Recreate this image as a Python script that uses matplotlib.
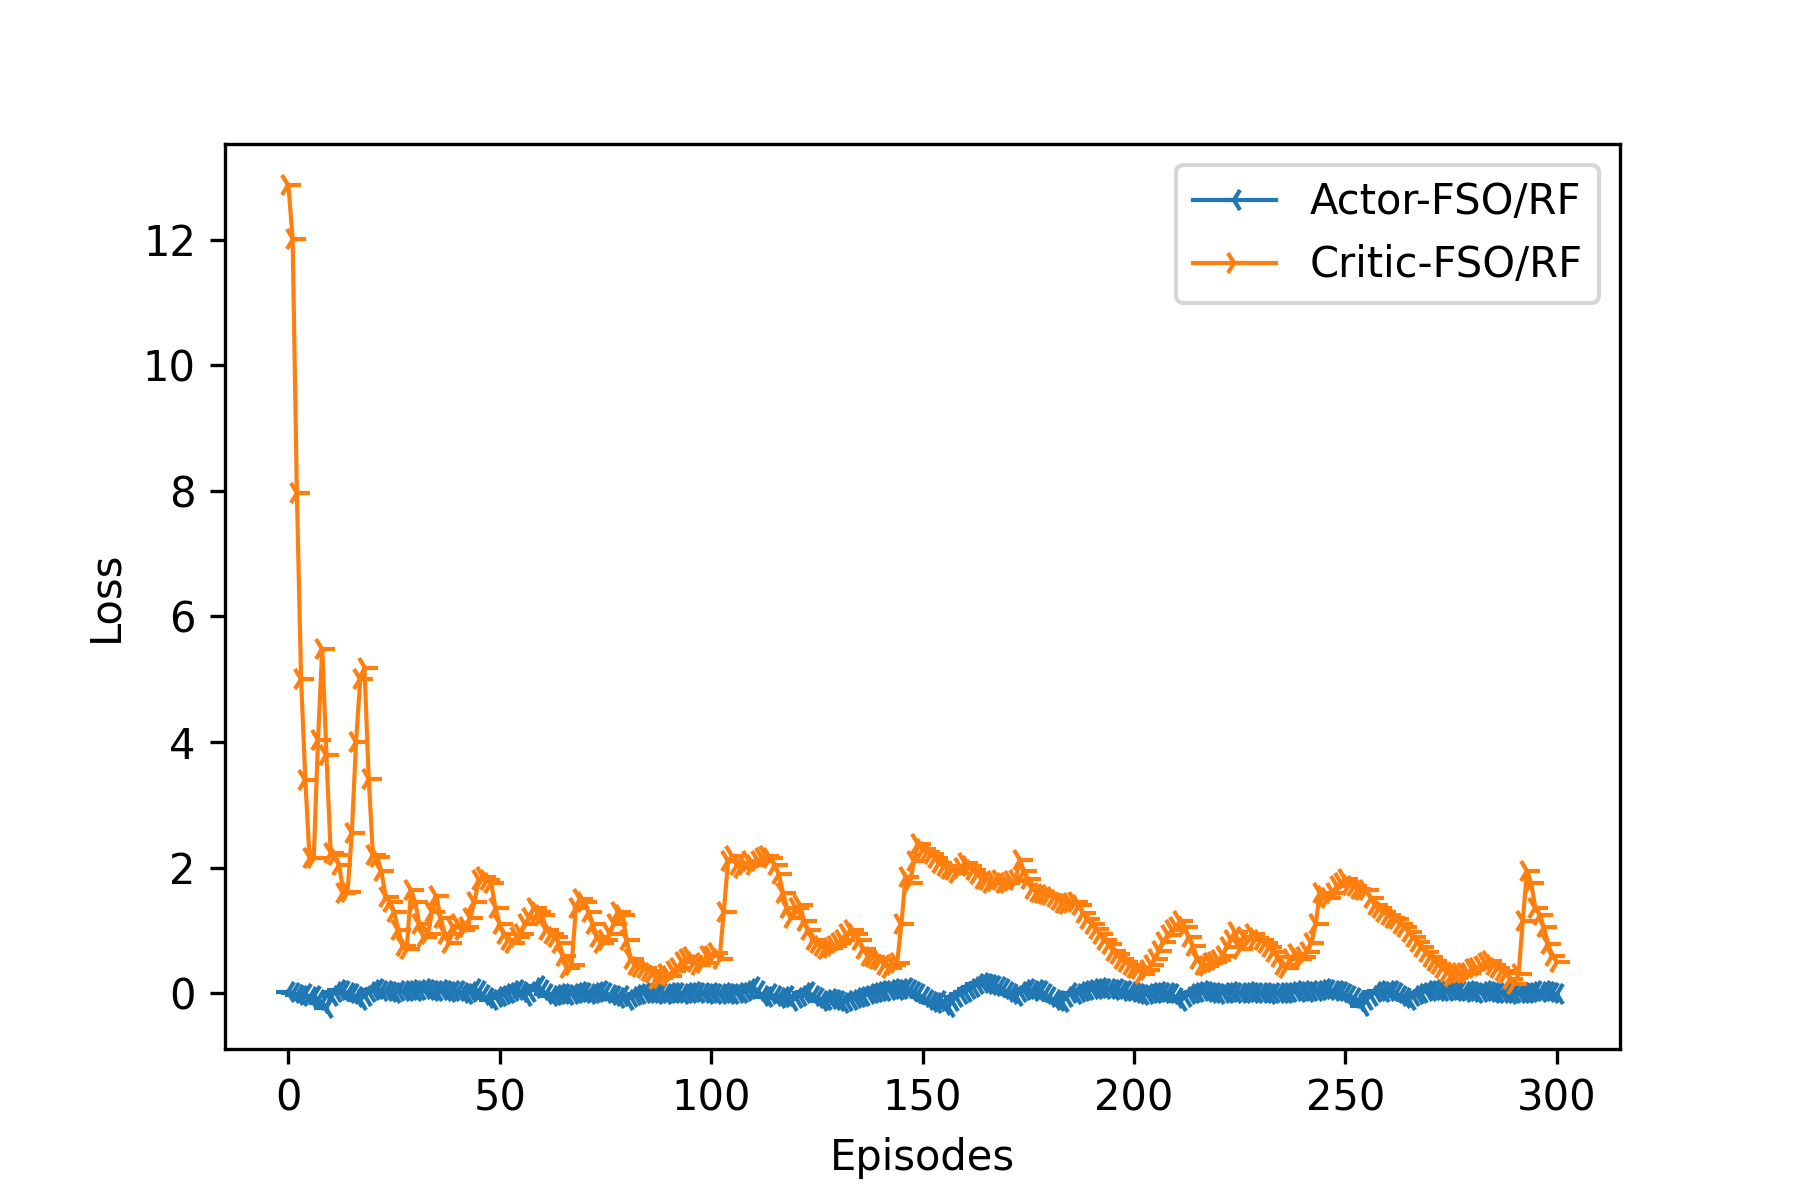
import numpy as np
import matplotlib
matplotlib.use('Agg')
import matplotlib.pyplot as plt

# critic loss per episode (0..300)
critic_loss = [
    12.87, 12.01, 7.97, 5.00, 3.40, 2.15, 2.15, 4.03, 5.49, 3.79,
    2.23, 2.20, 2.05, 1.60, 1.62, 2.55, 4.00, 5.00, 5.18, 3.41,
    2.20, 2.17, 1.94, 1.54, 1.46, 1.30, 1.00, 0.75, 0.70, 1.65,
    1.45, 1.10, 0.90, 0.95, 1.30, 1.55, 1.20, 0.95, 0.80, 1.05,
    1.10, 1.00, 1.05, 1.20, 1.45, 1.80, 1.85, 1.80, 1.75, 1.35,
    1.10, 0.95, 0.85, 0.80, 0.90, 0.95, 1.10, 1.20, 1.35, 1.30,
    1.25, 1.00, 0.95, 0.90, 0.80, 0.60, 0.40, 0.45, 1.35, 1.50,
    1.45, 1.30, 1.10, 0.90, 0.80, 0.85, 0.95, 1.10, 1.30, 1.25,
    0.85, 0.55, 0.45, 0.42, 0.40, 0.35, 0.32, 0.22, 0.25, 0.30,
    0.27, 0.35, 0.40, 0.50, 0.55, 0.58, 0.50, 0.45, 0.48, 0.60,
    0.60, 0.64, 0.55, 1.30, 2.10, 2.18, 2.05, 2.00, 2.05, 2.10,
    2.05, 2.10, 2.15, 2.18, 2.15, 2.05, 1.90, 1.60, 1.35, 1.20,
    1.35, 1.40, 1.15, 1.00, 0.85, 0.80, 0.75, 0.70, 0.72, 0.75,
    0.80, 0.85, 0.95, 1.00, 0.95, 0.85, 0.70, 0.60, 0.58, 0.55,
    0.53, 0.45, 0.40, 0.45, 0.48, 1.10, 1.85, 1.75, 2.10, 2.38,
    2.30, 2.25, 2.22, 2.15, 2.07, 2.02, 1.98, 1.96, 1.92, 2.00,
    2.07, 2.03, 1.96, 1.90, 1.82, 1.80, 1.75, 1.78, 1.80, 1.76,
    1.75, 1.78, 1.80, 2.12, 1.95, 1.82, 1.66, 1.62, 1.60, 1.58,
    1.56, 1.54, 1.48, 1.44, 1.42, 1.43, 1.46, 1.40, 1.27, 1.18,
    1.10, 1.02, 0.95, 0.85, 0.78, 0.68, 0.62, 0.55, 0.50, 0.45,
    0.40, 0.38, 0.30, 0.37, 0.45, 0.55, 0.68, 0.82, 0.92, 1.00,
    1.06, 1.15, 1.05, 0.90, 0.75, 0.55, 0.45, 0.43, 0.48, 0.50,
    0.53, 0.60, 0.74, 0.85, 0.98, 0.70, 0.90, 0.85, 0.95, 0.88,
    0.85, 0.80, 0.74, 0.65, 0.58, 0.45, 0.40, 0.55, 0.62, 0.55,
    0.58, 0.65, 0.80, 1.10, 1.59, 1.55, 1.52, 1.60, 1.70, 1.75,
    1.82, 1.72, 1.70, 1.66, 1.64, 1.64, 1.52, 1.40, 1.35, 1.30,
    1.25, 1.20, 1.18, 1.10, 1.05, 0.98, 0.90, 0.82, 0.74, 0.66,
    0.58, 0.52, 0.46, 0.40, 0.34, 0.28, 0.30, 0.32, 0.33, 0.32,
    0.38, 0.40, 0.43, 0.48, 0.52, 0.45, 0.40, 0.36, 0.32, 0.22,
    0.15, 0.30, 1.15, 1.95, 1.75, 1.35, 1.25, 1.05, 0.78, 0.60,
    0.50,
]

# actor loss per episode (0..300)
actor_loss = [
    0.02, 0.01, -0.03, -0.05, -0.02, -0.06, -0.04, -0.10, -0.15, -0.23,
    -0.05, 0.02, 0.05, 0.03, 0.00, -0.02, -0.06, -0.10, -0.04, 0.02,
    0.05, 0.06, 0.03, 0.04, 0.02, 0.01, 0.03, 0.04, 0.03, 0.05,
    0.04, 0.05, 0.06, 0.05, 0.03, 0.04, 0.05, 0.03, 0.02, 0.04,
    0.03, 0.00, -0.02, 0.02, 0.06, 0.04, -0.03, -0.08, -0.10, -0.06,
    -0.05, -0.02, 0.00, 0.03, 0.05, 0.02, -0.04, 0.02, 0.08, 0.12,
    0.05, -0.02, -0.04, -0.03, -0.02, -0.01, -0.03, -0.02, 0.00, 0.02,
    0.01, -0.01, 0.00, 0.02, 0.03, 0.00, -0.03, -0.05, -0.08, -0.04,
    -0.10, -0.06, -0.03, -0.01, 0.00, 0.01, 0.00, -0.01, 0.00, -0.02,
    0.00, 0.01, 0.00, -0.01, 0.00, 0.01, 0.02, 0.01, 0.00, -0.01,
    0.00, -0.02, -0.01, 0.00, -0.02, -0.01, 0.00, 0.01, 0.03, 0.06,
    0.10, 0.04, -0.04, -0.06, -0.02, -0.04, -0.08, -0.06, -0.05, -0.12,
    -0.08, -0.05, 0.00, 0.02, -0.04, -0.08, -0.12, -0.10, -0.09, -0.11,
    -0.12, -0.16, -0.12, -0.10, -0.08, -0.06, -0.04, -0.02, 0.00, 0.02,
    0.03, 0.04, 0.05, 0.06, 0.05, 0.06, 0.08, 0.05, 0.02, -0.02,
    -0.06, -0.10, -0.14, -0.16, -0.12, -0.18, -0.22, -0.12, -0.06, -0.02,
    0.02, 0.06, 0.10, 0.14, 0.16, 0.15, 0.13, 0.12, 0.10, 0.06,
    0.02, -0.02, -0.05, 0.02, 0.05, 0.06, 0.04, 0.05, 0.03, -0.02,
    -0.06, -0.10, -0.12, -0.14, -0.06, 0.00, -0.02, 0.02, 0.04, 0.05,
    0.06, 0.07, 0.08, 0.06, 0.07, 0.05, 0.06, 0.04, 0.03, 0.02,
    0.00, -0.02, -0.03, -0.02, 0.00, 0.01, 0.02, 0.01, 0.00, -0.02,
    -0.08, -0.12, -0.06, -0.02, 0.01, 0.02, 0.03, 0.02, 0.01, 0.00,
    -0.01, 0.00, 0.01, 0.02, 0.01, 0.00, 0.01, 0.02, 0.01, 0.00,
    0.01, 0.00, -0.01, 0.00, 0.01, 0.00, 0.01, 0.02, 0.03, 0.02,
    0.03, 0.02, 0.03, 0.04, 0.05, 0.06, 0.05, 0.04, 0.03, 0.02,
    -0.02, -0.04, -0.08, -0.12, -0.20, -0.10, -0.04, 0.02, 0.03, 0.02,
    0.04, 0.03, 0.00, -0.04, -0.08, -0.10, -0.05, -0.02, 0.01, 0.03,
    0.04, 0.05, 0.04, 0.03, 0.04, 0.05, 0.04, 0.03, 0.02, 0.03,
    0.02, 0.01, 0.02, 0.03, 0.02, 0.01, 0.00, 0.01, 0.00, -0.01,
    0.00, 0.01, 0.00, 0.01, 0.02, 0.03, 0.02, 0.03, 0.02, 0.01,
    -0.02,
]

episodes = np.arange(len(critic_loss))

fig = plt.figure(figsize=(6, 4), dpi=300)
plt.subplots_adjust(left=0.125, right=0.9, top=0.88, bottom=0.126)
plt.plot(episodes, actor_loss, marker='3', linewidth=1, label='Actor-FSO/RF')
plt.plot(episodes, critic_loss, marker='4', linewidth=1, label='Critic-FSO/RF')
plt.xlabel('Episodes')
plt.ylabel('Loss')
plt.legend(loc='upper right')
plt.savefig('out.png', dpi=300)
